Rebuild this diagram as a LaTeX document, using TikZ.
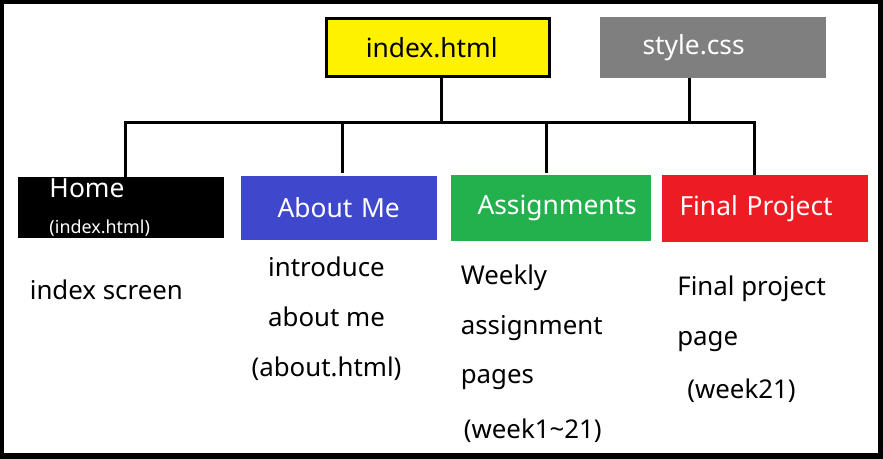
\documentclass[tikz,border=0pt]{standalone}
\usepackage{fontspec}
\setmainfont{Noto Sans}
\definecolor{siteMapYellow}{RGB}{255,242,0}
\definecolor{siteMapGray}{RGB}{127,127,127}
\definecolor{siteMapIndigo}{RGB}{63,72,204}
\definecolor{siteMapGreen}{RGB}{34,177,76}
\definecolor{siteMapRed}{RGB}{237,28,36}

\begin{document}
\begin{tikzpicture}[x=1cm,y=1cm,
    page/.style={inner sep=0pt, align=left, text=white,
      font=\fontsize{15}{18}\selectfont},
    note/.style={inner sep=0pt, text=black,
      font=\fontsize{14.7}{28.3}\selectfont},
    wire/.style={draw=black, line width=.06cm}]
  \useasboundingbox (0,0) rectangle (17.66,9.18);

  % Frame round the whole sketch.
  \fill[black] (0,0) rectangle (17.66,9.18);
  \fill[white] (.08,.12) rectangle (17.56,9.10);

  % Source files.
  \node[page, draw=black, line width=.06cm, fill=siteMapYellow, text=black,
    text width=4.46cm, minimum height=1.16cm] (index) at (8.76,8.23)
    {\hspace*{.785cm}index.html};
  \node[page, fill=siteMapGray, text width=4.52cm, minimum height=1.22cm]
    (style) at (14.26,8.23) {\hspace*{.85cm}style.css};

  % Pages of the site.
  \node[page, fill=black, text width=4.12cm, minimum height=1.22cm]
    (home) at (2.42,5.03) {\hspace*{.63cm}Home\\[2.4pt]
      \hspace*{.63cm}{\fontsize{10.2}{12}\selectfont(index.html)}};
  \node[page, fill=siteMapIndigo, text width=3.92cm, minimum height=1.28cm]
    (about) at (6.78,5.02) {\hspace*{.73cm}About Me};
  \node[page, fill=siteMapGreen, text width=4.00cm, minimum height=1.32cm]
    (assign) at (11.02,5.02) {\hspace*{.53cm}Assignments};
  \node[page, fill=siteMapRed, text width=4.12cm, minimum height=1.34cm]
    (final) at (15.30,5.01) {\hspace*{.35cm}Final Project};

  % Links between files and pages.
  \coordinate (bus) at (0,6.73);
  \coordinate (indexFoot) at ([xshift=.07cm]index.south);
  \coordinate (styleFoot) at ([xshift=-.47cm]style.south);
  \coordinate (homeTop) at ([xshift=.09cm]home.north);
  \coordinate (aboutTop) at ([xshift=.07cm]about.north);
  \coordinate (assignTop) at ([xshift=-.09cm]assign.north);
  \coordinate (finalTop) at ([xshift=-.22cm]final.north);
  \draw[wire] (homeTop) |- (finalTop |- bus) -- (finalTop);
  \draw[wire] (indexFoot) -- (indexFoot |- bus);
  \draw[wire] (styleFoot) -- (styleFoot |- bus);
  \draw[wire, shorten >=.05cm] (aboutTop |- bus) -- (aboutTop);
  \draw[wire, shorten >=.03cm] (assignTop |- bus) -- (assignTop);

  % What each page holds.
  \node[note, anchor=base west] (homeNote) at (.59,3.18) {index screen};
  \node[note, align=center, anchor=north] (aboutNote) at (6.53,4.04)
    {introduce\\about me\\(about.html)};
  \node[note, align=left, anchor=north west] (assignNote) at (9.21,3.89)
    {Weekly\\assignment\\pages\\[2.6pt]\hspace*{.06cm}(week1\textasciitilde21)};
  \node[note, align=left, anchor=north west] (finalNote) at (13.54,3.67)
    {Final project\\page\\[2.1pt]\hspace*{.2cm}(week21)};
\end{tikzpicture}
\end{document}
